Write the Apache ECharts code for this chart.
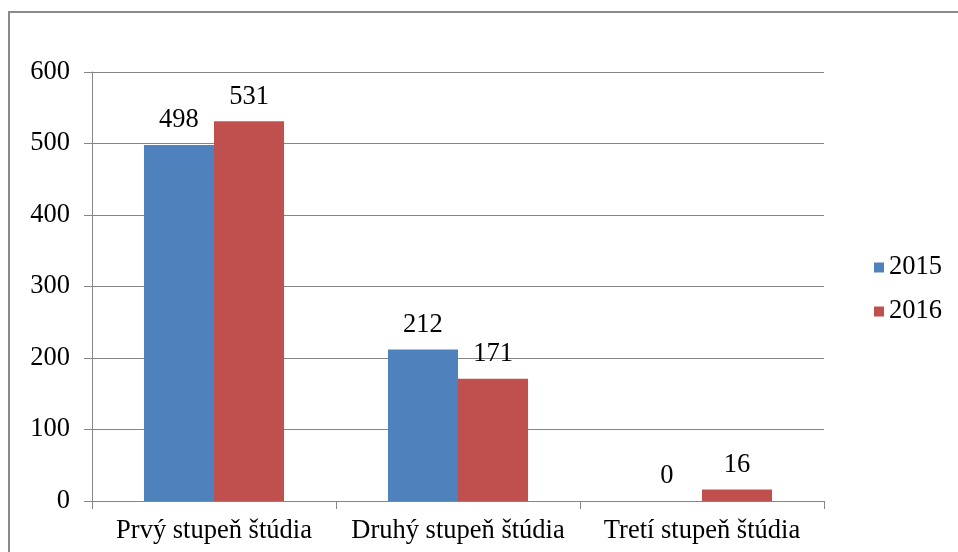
<!DOCTYPE html>
<html><head><meta charset="utf-8">
<script src="https://cdn.jsdelivr.net/npm/echarts@6/dist/echarts.min.js"></script>
<style>html,body{margin:0;padding:0;background:#fff}#c{width:958px;height:552px}</style>
</head><body><div id="c"></div>
<script>
const categories = ['Prvý stupeň štúdia', 'Druhý stupeň štúdia', 'Tretí stupeň štúdia'];
const values2015 = [498, 212, 0];
const values2016 = [531, 171, 16];
const seriesNames = ['2015', '2016'];
const font = '"Liberation Serif", "Times New Roman", serif';
const fs = 26.5;
const chart = echarts.init(document.getElementById('c'));
const lbl = {show: true, position: 'top', distance: 11, color: '#000', fontFamily: font, fontSize: fs};
chart.setOption({
  animation: false,
  textStyle: {fontFamily: font},
  graphic: [{type: 'rect', shape: {x: 9, y: 12, width: 1000, height: 600}, style: {fill: 'none', stroke: '#8a8a8a', lineWidth: 2}}],
  grid: {left: 92, right: 134, top: 72, bottom: 51},
  legend: {
    orient: 'vertical', left: 869, top: 249, itemWidth: 10, itemHeight: 10, itemGap: 17,
    icon: 'rect', textStyle: {fontFamily: font, fontSize: fs, color: '#000'},
    data: seriesNames
  },
  xAxis: {
    type: 'category', data: categories,
    axisLine: {lineStyle: {color: '#868686'}},
    axisTick: {show: true, length: 8, lineStyle: {color: '#868686'}},
    axisLabel: {color: '#000', fontFamily: font, fontSize: fs, margin: 17, interval: 0, hideOverlap: false}
  },
  yAxis: {
    type: 'value', min: 0, max: 600, interval: 100,
    axisLine: {show: true, lineStyle: {color: '#868686'}},
    axisTick: {show: true, length: 8, lineStyle: {color: '#868686'}},
    splitLine: {lineStyle: {color: '#868686'}},
    axisLabel: {color: '#000', fontFamily: font, fontSize: fs, margin: 22}
  },
  series: [
    {name: seriesNames[0], type: 'bar', data: values2015, barGap: '0%', barCategoryGap: '42.6%', itemStyle: {color: '#4F81BD'}, label: lbl},
    {name: seriesNames[1], type: 'bar', data: values2016, barGap: '0%', barCategoryGap: '42.6%', itemStyle: {color: '#C0504D'}, label: lbl}
  ]
});
</script></body></html>
